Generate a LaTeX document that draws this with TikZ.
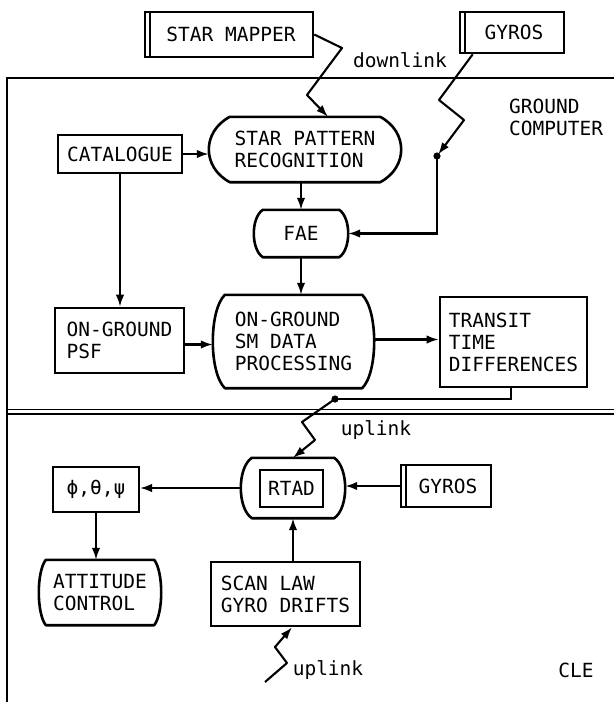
\documentclass[tikz,border=0pt]{standalone}
\usepackage{fontspec}
\setmainfont{DejaVu Sans Mono}
\usetikzlibrary{arrows.meta,calc}
\tikzset{
  boxline/.style={line width=2.6pt},
  box/.style={draw, boxline, inner sep=0pt, align=left},
  bulgy/.style={inner sep=0pt, align=left},
  label/.style={inner sep=0pt, align=left},
  conn/.style={line width=2.1pt, -{Latex[length=12pt,width=8.5pt]}},
  plainconn/.style={line width=2.1pt},
  frameline/.style={line width=2.2pt},
}
\newcommand\drawbulge[3]{% node name, bulge, vertical control offset
  \draw[boxline, line join=round]
    ($(#1.north west)+(#2,0)$) -- ($(#1.north east)+(-#2,0)$)
    .. controls ($(#1.north east)+(#2/3,#3)$) and ($(#1.south east)+(#2/3,-#3)$) ..
    ($(#1.south east)+(-#2,0)$) -- ($(#1.south west)+(#2,0)$)
    .. controls ($(#1.south west)+(-#2/3,-#3)$) and ($(#1.north west)+(-#2/3,#3)$) ..
    cycle;}
\newcommand\inbar[1]{%
  \draw[line width=1.6pt] ([xshift=6pt]#1.north west) -- ([xshift=6pt]#1.south west);}
\begin{document}
\begin{tikzpicture}[x=1pt,y=-1pt,font=\fontsize{19.5}{22}\selectfont]
\useasboundingbox (0,0) rectangle (614,702);
\fill[white] (0,0) rectangle (614,702);

% frame
\draw[frameline] (614,78) -- (7,78) -- (7,702);
\draw[line width=1.6pt] (7,409.5) -- (614,409.5);
\draw[line width=1.6pt] (7,414) -- (614,414);

% top (spacecraft) boxes
\node[box, minimum width=168pt, minimum height=45pt] (sm) at (229,34.5) {\hspace*{4pt}STAR MAPPER};
\inbar{sm}
\node[box, minimum width=104pt, minimum height=41pt] (gyT) at (512,32.5) {\hspace*{4pt}GYROS};
\inbar{gyT}
\node[label] (down) at (400,60) {downlink};

% ground computer
\node[label, anchor=west] (gc) at (509,117) {GROUND\\COMPUTER};
\node[box, minimum width=124pt, minimum height=38pt] (cat) at (120,154) {CATALOGUE};
\node[bulgy, minimum width=192pt, minimum height=65pt] (spr) at (305,149.5) {STAR PATTERN\\RECOGNITION};
\drawbulge{spr}{21}{15}
\node[bulgy, minimum width=94pt, minimum height=47pt] (fae) at (301,233.5) {FAE};
\drawbulge{fae}{9}{8}
\node[box, minimum width=129pt, minimum height=65pt] (psf) at (119.5,340.5) {ON-GROUND\\PSF};
\node[bulgy, minimum width=161pt, minimum height=93pt] (smd) at (293.5,341.5) {ON-GROUND\\SM DATA\\PROCESSING};
\drawbulge{smd}{12}{16}
\node[box, minimum width=147pt, minimum height=90pt] (ttd) at (513.5,342) {TRANSIT\\TIME\\DIFFERENCES};

% CLE
\node[label] (up1) at (376,430) {uplink};
\node[bulgy, minimum width=104pt, minimum height=60pt] (rtad) at (293,488) {};
\drawbulge{rtad}{11}{10}
\node[box, minimum width=63pt, minimum height=37pt] (rtin) at (291.5,488.5) {RTAD};
\node[box, minimum width=86pt, minimum height=45pt, line width=2pt] (phi) at (96,489.5) {ϕ,θ,ψ};
\node[box, minimum width=90pt, minimum height=42pt] (gyL) at (446,486) {\hspace*{4pt}GYROS};
\inbar{gyL}
\node[bulgy, minimum width=122pt, minimum height=65pt] (att) at (100,592.5) {ATTITUDE\\CONTROL};
\drawbulge{att}{7}{12}
\node[box, minimum width=149pt, minimum height=64pt] (scan) at (285.5,594) {SCAN LAW\\GYRO DRIFTS};
\node[label] (up2) at (328,670) {uplink};
\node[label] (cle) at (576,670) {CLE};

% dots and free ends
\coordinate (d1) at (437,156);
\coordinate (d2) at (335,399);
\coordinate (u2) at (265,682);
\fill (d1) circle (3.6);
\fill (d2) circle (3.6);

% connectors
\draw[conn, line join=round] (sm.east) -- (342,48) -- (307,95) -- ([xshift=23pt]spr.north);
\draw[conn, line join=round, shorten >=2pt] ([xshift=14pt]gyT.south west) -- (439,100) -- (464,120) -- (d1);
\draw[conn] (d1) |- (fae.east);
\draw[conn] (cat.east) -- (cat.east -| spr.west);
\draw[conn] (cat.south) -- (cat.south |- psf.north);
\draw[conn] (fae.north |- spr.south) -- (fae.north);
\draw[conn] (fae.south) -- (fae.south |- smd.north);
\draw[conn] ([yshift=-4pt]psf.east) -- ([yshift=-4pt]psf.east -| smd.west);
\draw[conn] ([yshift=2pt]smd.east) -- ([yshift=2pt]smd.east -| ttd.west);
\draw[plainconn] ([xshift=-2.5pt]ttd.south) |- (d2);
\draw[conn, line join=round] (d2) -- (302,422) -- (315,440) -- (rtad.north);
\draw[conn] (gyL.west) -- (gyL.west -| rtad.east);
\draw[conn] (rtad.west) -- (rtad.west -| phi.east);
\draw[conn] (phi.south) -- (phi.south |- att.north);
\draw[conn] (rtad.south |- scan.north) -- (rtad.south);
\draw[conn, line join=round] (u2) -- (287,663) -- (275,647) -- ([xshift=6.5pt]scan.south);
\end{tikzpicture}
\end{document}
